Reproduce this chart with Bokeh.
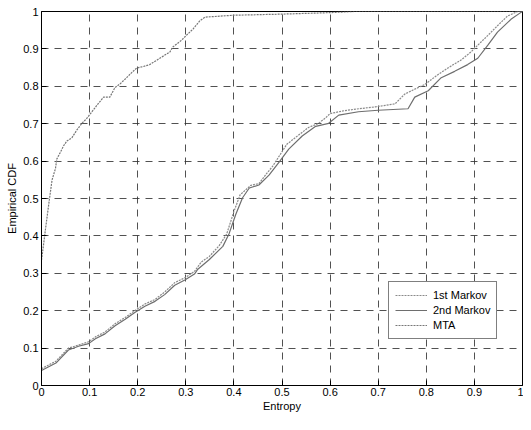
from bokeh.plotting import figure
from bokeh.models import Range1d, FixedTicker, Legend, LegendItem
from bokeh.embed import file_html
from bokeh.resources import INLINE

# ---- data ----
tick_vals = [0, 0.1, 0.2, 0.3, 0.4, 0.5, 0.6, 0.7, 0.8, 0.9, 1]
tick_labels = ["0", "0.1", "0.2", "0.3", "0.4", "0.5", "0.6", "0.7", "0.8", "0.9", "1"]

m1_x = [0, 0.03, 0.056, 0.077, 0.098, 0.112, 0.132, 0.153, 0.174, 0.194, 0.215, 0.236,
        0.256, 0.277, 0.298, 0.318, 0.332, 0.349, 0.37, 0.385, 0.40, 0.413, 0.435, 0.452,
        0.47, 0.48, 0.495, 0.51, 0.53, 0.555, 0.575, 0.59, 0.60, 0.63, 0.66, 0.694, 0.735,
        0.755, 0.769, 0.797, 0.824, 0.845, 0.873, 0.893, 0.907, 0.928, 0.948, 0.969, 0.99, 1.0]
m1_y = [0.045, 0.065, 0.10, 0.108, 0.117, 0.13, 0.143, 0.165, 0.182, 0.20, 0.218, 0.23,
        0.25, 0.275, 0.288, 0.305, 0.33, 0.345, 0.375, 0.405, 0.465, 0.51, 0.535, 0.54,
        0.57, 0.585, 0.615, 0.645, 0.665, 0.69, 0.70, 0.715, 0.727, 0.735, 0.74, 0.745, 0.753,
        0.779, 0.788, 0.805, 0.831, 0.849, 0.871, 0.892, 0.91, 0.936, 0.962, 0.988, 1.0, 1.0]

m2_x = [0, 0.03, 0.056, 0.077, 0.098, 0.112, 0.132, 0.153, 0.174, 0.194, 0.215, 0.236,
        0.256, 0.277, 0.298, 0.318, 0.325, 0.349, 0.377, 0.39, 0.404, 0.418, 0.432, 0.452,
        0.473, 0.494, 0.514, 0.542, 0.570, 0.597, 0.618, 0.659, 0.70, 0.762, 0.776, 0.804,
        0.831, 0.859, 0.886, 0.907, 0.928, 0.948, 0.976, 0.996, 1.0]
m2_y = [0.04, 0.06, 0.095, 0.105, 0.112, 0.125, 0.138, 0.16, 0.177, 0.195, 0.212, 0.225,
        0.243, 0.268, 0.282, 0.298, 0.311, 0.337, 0.372, 0.406, 0.458, 0.502, 0.528, 0.536,
        0.5625, 0.597, 0.632, 0.667, 0.693, 0.701, 0.723, 0.732, 0.736, 0.74, 0.771, 0.788,
        0.823, 0.84, 0.858, 0.875, 0.91, 0.945, 0.979, 0.997, 1.0]

mta_x = [0, 0.002, 0.008, 0.015, 0.022, 0.029, 0.032, 0.039, 0.046, 0.053, 0.063, 0.074,
         0.084, 0.094, 0.105, 0.115, 0.129, 0.142, 0.153, 0.163, 0.177, 0.187, 0.198, 0.212,
         0.225, 0.246, 0.267, 0.273, 0.291, 0.301, 0.315, 0.329, 0.34, 0.40, 0.50, 0.60, 0.65, 1.0]
mta_y = [0.335, 0.354, 0.415, 0.484, 0.55, 0.58, 0.606, 0.623, 0.641, 0.654, 0.662, 0.684,
         0.701, 0.714, 0.732, 0.749, 0.771, 0.771, 0.797, 0.806, 0.823, 0.836, 0.849, 0.853,
         0.858, 0.875, 0.892, 0.905, 0.923, 0.936, 0.953, 0.975, 0.985, 0.99, 0.993, 0.997, 1.0, 1.0]

FONT = "Liberation Sans"

p = figure(width=523, height=414, output_backend="svg", toolbar_location=None,
           x_range=Range1d(0, 1), y_range=Range1d(0, 1),
           min_border_left=41, min_border_right=1, min_border_top=11, min_border_bottom=28)
p.background_fill_color = "white"
p.border_fill_color = "white"
p.outline_line_color = "black"
p.outline_line_width = 1

for ax in (p.xaxis[0], p.yaxis[0]):
    ax.ticker = FixedTicker(ticks=tick_vals)
    ax.major_label_overrides = {v: s for v, s in zip(tick_vals, tick_labels)}
    ax.major_tick_in = 5
    ax.major_tick_out = 0
    ax.minor_tick_in = 0
    ax.minor_tick_out = 0
    ax.major_label_text_font = FONT
    ax.major_label_text_font_size = "11px"
    ax.major_label_text_color = "black"
    ax.axis_label_text_font = FONT
    ax.axis_label_text_font_size = "11px"
    ax.axis_label_text_font_style = "normal"
    ax.axis_label_text_color = "black"
    ax.axis_line_color = "black"
    ax.major_tick_line_color = "black"
    ax.major_label_standoff = 3
    ax.axis_label_standoff = 2

p.xaxis[0].major_label_standoff = 2
p.xaxis[0].axis_label_standoff = 1
p.xaxis.axis_label = "Entropy"
p.yaxis.axis_label = "Empirical CDF"

for g in (p.xgrid[0], p.ygrid[0]):
    g.ticker = FixedTicker(ticks=tick_vals)
    g.grid_line_color = "#333333"
    g.grid_line_dash = "7 6"
    g.grid_line_width = 1
    g.grid_line_alpha = 0.85

r1 = p.line(m1_x, m1_y, line_color="#8a8a8a", line_width=1.2, line_dash="2 1")
r2 = p.line(m2_x, m2_y, line_color="#6e6e6e", line_width=1.2)
r3 = p.line(mta_x, mta_y, line_color="#777777", line_width=1.2, line_dash="2 1")

legend = Legend(items=[LegendItem(label="1st Markov", renderers=[r1]),
                       LegendItem(label="2nd Markov", renderers=[r2]),
                       LegendItem(label="MTA", renderers=[r3])],
                location=(347, 46))
legend.label_text_font = FONT
legend.label_text_font_size = "11px"
legend.label_text_color = "black"
legend.label_height = 14
legend.glyph_height = 14
legend.glyph_width = 32
legend.label_standoff = 6
legend.spacing = 1
legend.padding = 6
legend.margin = 0
legend.border_line_color = "black"
legend.border_line_width = 1
legend.background_fill_color = "white"
legend.background_fill_alpha = 1
p.add_layout(legend)

open("out.html", "w").write(file_html(p, INLINE))
